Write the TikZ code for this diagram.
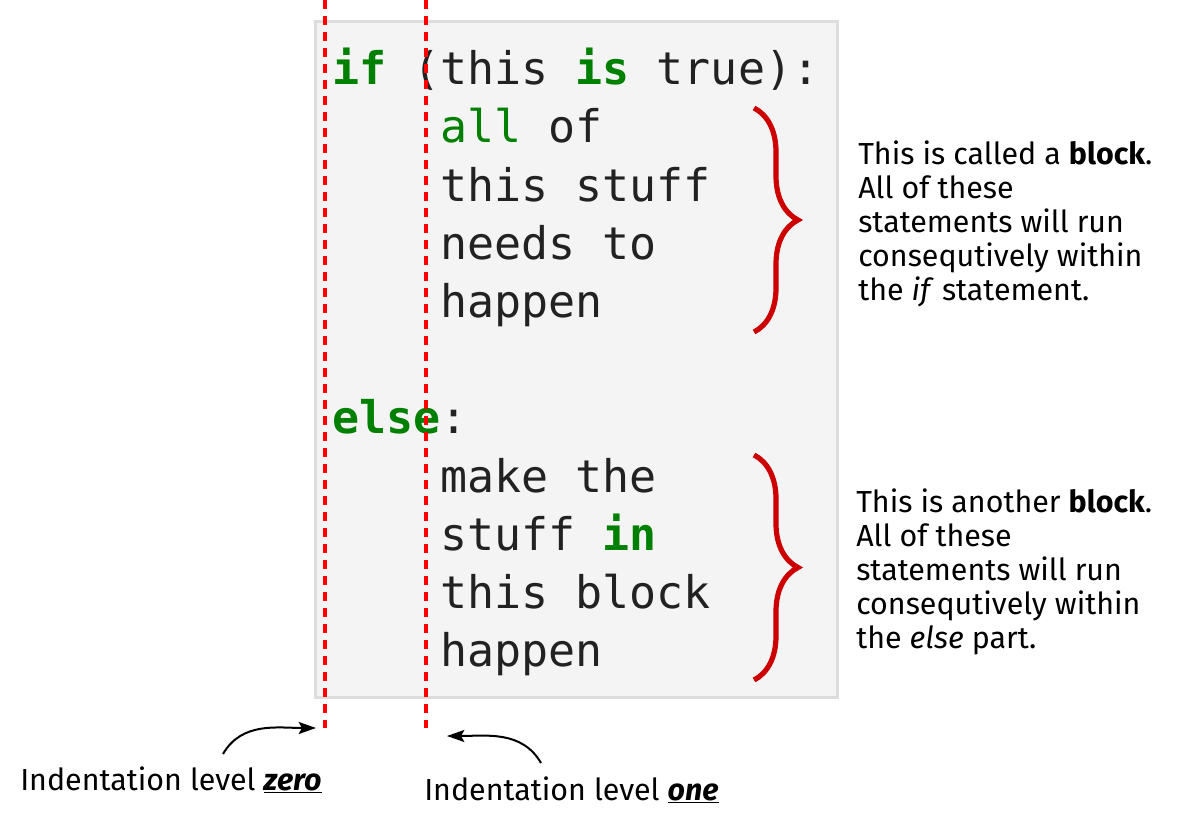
\documentclass[tikz,border=0pt]{standalone}
\usepackage{fontspec}
\setmainfont{Fira Sans}
\newfontfamily\codefont{DejaVu Sans Mono}
\usepackage{xcolor}
\usepackage{tikz}
\usetikzlibrary{positioning}
\usetikzlibrary{arrows.meta}
\usetikzlibrary{decorations.pathreplacing}
\definecolor{kwgreen}{HTML}{008000}
\definecolor{codetext}{HTML}{222222}
\definecolor{boxfill}{HTML}{F4F4F4}
\definecolor{boxline}{HTML}{DDDDDD}
\definecolor{bracered}{HTML}{CC0000}
\newcommand{\kw}[1]{\textcolor{kwgreen}{\bfseries #1}}

\begin{document}
\begin{tikzpicture}[x=0.75pt, y=-0.75pt, code/.style={anchor=base west, inner sep=0, text=codetext, font=\codefont\fontsize{33.7}{44}\selectfont}, note/.style={anchor=north west, inner sep=0, align=left, font=\fontsize{22.8}{25.5}\selectfont}, guide/.style={red, line width=3pt, dash pattern=on 7pt off 5pt}, blockbrace/.style={bracered, line width=3.9pt, decorate, decoration={brace, amplitude=33pt}}, pointer/.style={-{Stealth[length=13pt, width=9pt, inset=2.5pt]}, line width=1.5pt}]
\useasboundingbox (0,0) rectangle (1177,816);
\draw[boxline, fill=boxfill, line width=2.25pt] (315.5,21.5) rectangle (837.5,697.5);
% code lines
\node[code] (ifline) at (332,85) {\kw{if} (this \kw{is} true):};
\node[code] (a1) at (439.8,143) {\textcolor{kwgreen}{all} of};
\node[code] (a2) at (439.8,202) {this stuff};
\node[code] (a3) at (439.8,260) {needs to};
\node[code] (a4) at (439.8,318) {happen};
\node[code] (elseline) at (332,433) {\kw{else}:};
\node[code] (b1) at (439.8,492) {make the};
\node[code] (b2) at (439.8,550) {stuff \kw{in}};
\node[code] (b3) at (439.8,608) {this block};
\node[code] (b4) at (439.8,666) {happen};
% indentation guides
\coordinate (zerotop) at (325,0);
\coordinate (zerobot) at (325,728);
\coordinate (onetop) at (426,0);
\coordinate (onebot) at (426,728);
\draw[guide] (zerotop) -- (zerobot);
\draw[guide] (onetop) -- (onebot);
% braces and notes
\coordinate (ifbracetop) at (754,108);
\coordinate (ifbracebot) at (754,332);
\coordinate (elsebracetop) at (754,455);
\coordinate (elsebracebot) at (754,680);
\draw[blockbrace] (ifbracetop) -- (ifbracebot);
\draw[blockbrace] (elsebracetop) -- (elsebracebot);
\node[note] (ifnote) at (858,141) {This is called a \textbf{block}.\\All of these\\statements will run\\consequtively within\\the \textit{if} statement.};
\node[note] (elsenote) at (856,489) {This is another \textbf{block}.\\All of these\\statements will run\\consequtively within\\the \textit{else} part.};
% level labels
\node[note, anchor=base west] (zerolbl) at (20,790) {Indentation level \underline{\textbf{\textit{zero}}}};
\node[note, anchor=base west] (onelbl) at (424,800) {Indentation level \underline{\textbf{\textit{one}}}};
\coordinate (zerotip) at (316,728);
\coordinate (onetip) at (447,736);
\coordinate (zerostart) at (223,754);
\coordinate (onestart) at (541,763);
\draw[pointer] (zerostart) to[out=60, in=180] (zerotip);
\draw[pointer] (onestart) to[out=120, in=0] (onetip);
\end{tikzpicture}
\end{document}
